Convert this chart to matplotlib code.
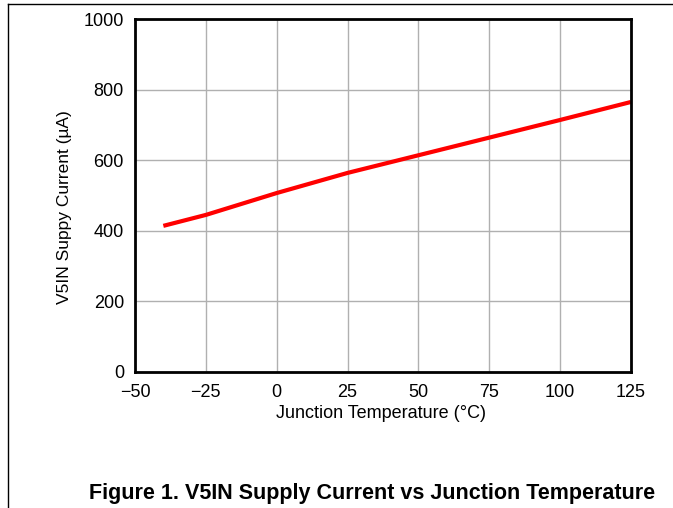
import matplotlib
matplotlib.use("Agg")
import matplotlib.pyplot as plt
from matplotlib.lines import Line2D

temp = [-40, -25, 0, 25, 50, 75, 100, 125]
current = [414, 445, 507, 564, 614, 664, 714, 765]
xticks = [-50, -25, 0, 25, 50, 75, 100, 125]
xticklabels = ['\u221250', '\u221225', '0', '25', '50', '75', '100', '125']
yticks = [0, 200, 400, 600, 800, 1000]

plt.rcParams['font.family'] = ['Liberation Sans', 'DejaVu Sans']
fig = plt.figure(figsize=(6.73, 5.08), dpi=100)
L, R, T, B = 135, 631, 19, 372
ax = fig.add_axes([L/673, 1-B/508, (R-L)/673, (B-T)/508])
ax.plot(temp, current, color='#ff0000', lw=3, solid_capstyle='butt')
ax.set_xlim(-50, 125)
ax.set_ylim(0, 1000)
ax.set_xticks(xticks)
ax.set_xticklabels(xticklabels)
ax.set_yticks(yticks)
ax.grid(True, color='#b0b0b0', lw=1)
ax.set_axisbelow(True)
for s in ax.spines.values():
    s.set_linewidth(2)
    s.set_color('black')
ax.tick_params(axis='x', length=0, labelsize=13, pad=8.5)
ax.tick_params(axis='y', length=0, labelsize=13, pad=8)
ax.set_xlabel('Junction Temperature (\u00b0C)', fontsize=13)
ax.set_ylabel('V5IN Suppy Current (\u00b5A)', fontsize=12.5)
ax.xaxis.set_label_coords((381.5-L)/(R-L), -(413-B)/(B-T))
ax.xaxis.label.set_va('center')
ax.yaxis.set_label_coords((65-L)/(R-L), (B-207)/(B-T))
ax.yaxis.label.set_va('center')
fig.text(372.5/673, 1-493/508, 'Figure 1. V5IN Supply Current vs Junction Temperature',
         ha='center', va='center', fontsize=15.5, fontweight='bold')
fig.add_artist(Line2D([8/673, 8/673], [0, 1-4/508], color='black', lw=1, transform=fig.transFigure))
fig.add_artist(Line2D([8/673, 1], [1-4/508, 1-4/508], color='black', lw=1, transform=fig.transFigure))
fig.savefig('out.png', dpi=100)
